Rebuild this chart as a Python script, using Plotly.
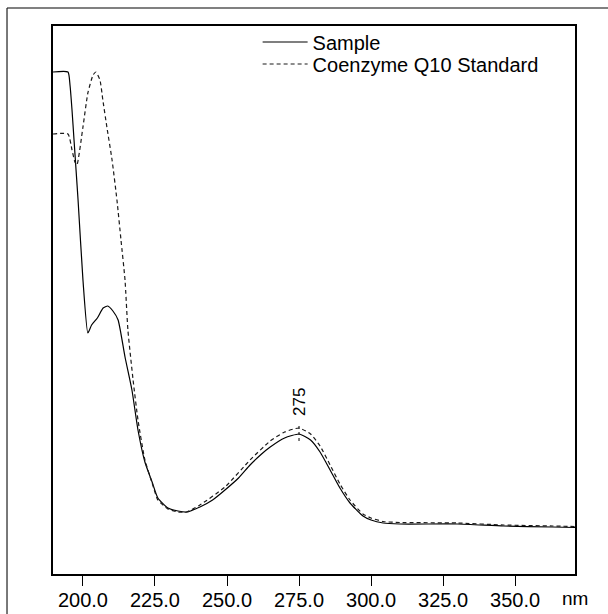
import plotly.graph_objects as go

# Sample (solid) spectrum: wavelength (nm) and absorbance (arbitrary units)
sample_nm = [189.6, 194.8, 195.5, 196.2, 196.9, 197.6, 198.3, 200.0, 201.7, 203.0, 205.0,
             207.0, 208.6, 210.4, 212.2, 214.6, 217.0, 219.1, 221.5, 224.0, 226.0, 229.5,
             233.0, 236.0, 240.6, 245.0, 249.3, 254.0, 258.0, 262.0, 265.0, 270.0, 275.0,
             279.0, 282.3, 285.8, 289.2, 292.7, 297.2, 300.0, 304.2, 310.0, 330.0, 346.0,
             363.0, 370.8]
sample_abs = [2.51, 2.51, 2.445, 2.32, 2.17, 2.02, 1.87, 1.47, 1.205, 1.245, 1.28,
              1.33, 1.34, 1.315, 1.27, 1.085, 0.92, 0.72, 0.56, 0.46, 0.38, 0.33,
              0.315, 0.31, 0.335, 0.37, 0.42, 0.48, 0.545, 0.60, 0.635, 0.68, 0.70,
              0.67, 0.61, 0.52, 0.43, 0.355, 0.29, 0.27, 0.255, 0.25, 0.25, 0.24,
              0.235, 0.2325]

# Coenzyme Q10 standard (dashed) spectrum
std_nm = [189.6, 194.8, 196.2, 197.2, 197.9, 200.0, 201.7, 203.5, 204.5, 205.9, 206.9,
          208.3, 210.1, 211.8, 213.2, 214.6, 215.6, 217.4, 219.1, 221.5, 224.0, 226.0,
          229.5, 233.0, 236.0, 240.6, 249.3, 258.0, 265.0, 270.0, 275.0, 279.0, 282.3,
          285.8, 289.2, 292.7, 297.2, 300.0, 304.2, 310.0, 330.0, 346.0, 363.0, 370.8]
std_abs = [2.20, 2.20, 2.12, 2.06, 2.045, 2.235, 2.405, 2.495, 2.51, 2.47, 2.37,
           2.235, 2.07, 1.87, 1.67, 1.47, 1.22, 0.97, 0.77, 0.57, 0.455, 0.37,
           0.325, 0.31, 0.31, 0.345, 0.435, 0.57, 0.665, 0.71, 0.73, 0.70, 0.64,
           0.545, 0.45, 0.37, 0.30, 0.28, 0.2625, 0.2575, 0.255, 0.245, 0.24, 0.2375]

tick_vals = [200, 225, 250, 275, 300, 325, 350]
tick_text = ["200.0", "225.0", "250.0", "275.0", "300.0", "325.0", "350.0"]
x_range = [189.6, 370.8]
peak_nm = 275
peak_label = "275"
x_unit = "nm"

FONT = "Liberation Sans, Arial, sans-serif"

fig = go.Figure()
fig.add_trace(go.Scatter(x=sample_nm, y=sample_abs, mode="lines", name="Sample",
                         legend="legend",
                         line=dict(color="#000000", width=1.2, shape="spline", smoothing=0.5)))
fig.add_trace(go.Scatter(x=std_nm, y=std_abs, mode="lines", name="Coenzyme Q10 Standard",
                         legend="legend2",
                         line=dict(color="#1a1a1a", width=1.2, dash="4px,3px",
                                   shape="spline", smoothing=0.5)))
# invisible trace to activate the tick-mark axis
fig.add_trace(go.Scatter(x=x_range, y=[None, None], xaxis="x2", mode="lines",
                         showlegend=False, hoverinfo="skip"))

# peak marker
fig.add_shape(type="line", xref="x", yref="y", x0=peak_nm, x1=peak_nm, y0=0.665, y1=0.745,
              line=dict(color="#000000", width=1, dash="dot"))
fig.add_annotation(x=peak_nm, y=0.86, xref="x", yref="y", text=peak_label, textangle=-90,
                   showarrow=False, font=dict(family=FONT, size=17, color="#000000"))

# unit label at end of axis
fig.add_annotation(x=1.0, y=-0.044, xref="paper", yref="paper", text=x_unit,
                   showarrow=False, xanchor="center", yanchor="middle",
                   font=dict(family=FONT, size=19, color="#000000"))

# outer frame lines
fig.add_shape(type="line", xref="paper", yref="paper", x0=-0.0881, x1=1.07, y0=1.0328, y1=1.0328,
              line=dict(color="#808080", width=2))
fig.add_shape(type="line", xref="paper", yref="paper", x0=-0.0881, x1=-0.0881, y0=1.0328, y1=-0.08,
              line=dict(color="#202020", width=1.2))

leg_common = dict(xanchor="left", yanchor="middle", bgcolor="rgba(0,0,0,0)",
                  font=dict(family=FONT, size=20, color="#000000"), itemwidth=45)

fig.update_layout(
    width=608, height=614,
    margin=dict(l=53, r=33, t=26, b=40, autoexpand=False),
    paper_bgcolor="white", plot_bgcolor="white",
    font=dict(family=FONT, color="#000000"),
    showlegend=True,
    legend=dict(x=0.392, y=(574 - 42) / 548, **leg_common),
    legend2=dict(x=0.392, y=(574 - 64) / 548, **leg_common),
    xaxis=dict(range=x_range, tickvals=tick_vals, ticktext=tick_text,
               ticks="outside", ticklen=7, tickwidth=1, tickcolor="rgba(0,0,0,0)",
               showline=True, linecolor="#000000", linewidth=1.5, mirror=True,
               showgrid=False, zeroline=False, automargin=False,
               tickfont=dict(family=FONT, size=20, color="#000000")),
    xaxis2=dict(range=x_range, tickvals=tick_vals, overlaying="x", anchor="y", side="bottom",
                ticks="outside", ticklen=11, tickwidth=1.3, tickcolor="#000000",
                showticklabels=False, showline=False, showgrid=False, zeroline=False,
                automargin=False),
    yaxis=dict(range=[0, 2.74], showticklabels=False, ticks="",
               showline=True, linecolor="#000000", linewidth=1.5, mirror=True,
               showgrid=False, zeroline=False, automargin=False),
)

fig.write_html("out.html")
